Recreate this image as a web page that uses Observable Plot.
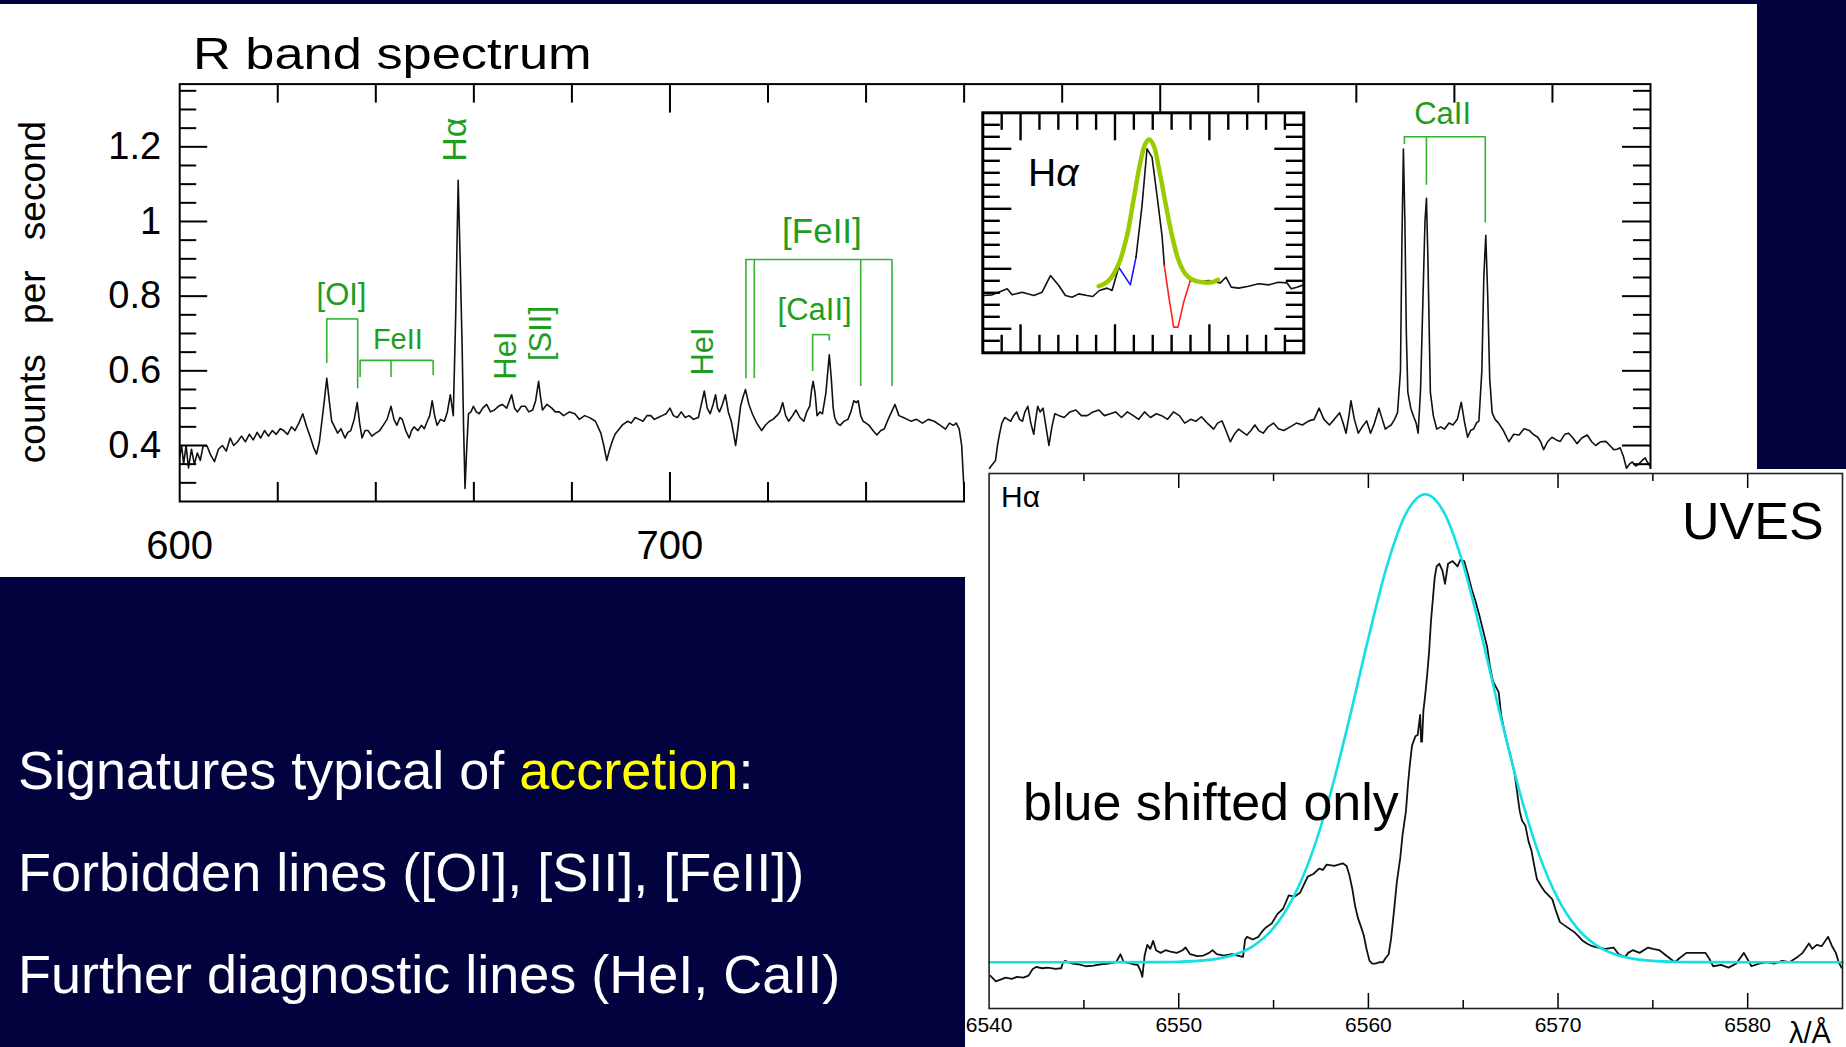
<!DOCTYPE html>
<html>
<head>
<meta charset="utf-8">
<script src="https://cdn.jsdelivr.net/npm/d3@7"></script>
<script src="https://cdn.jsdelivr.net/npm/@observablehq/plot@0.6"></script>
<style>
  html, body { margin: 0; padding: 0; }
  body { width: 1846px; height: 1047px; background: #02023e; position: relative; overflow: hidden;
         font-family: "Liberation Sans", Arial, Helvetica, sans-serif; }
  .sheet { position: absolute; background: #ffffff; }
  .chart { position: absolute; }
  .chart svg { overflow: visible; display: block; }
  .lbl { position: absolute; white-space: nowrap; line-height: 1; }
</style>
</head>
<body>
<div class="sheet" style="left:0;top:4px;width:1757px;height:573px"></div>
<div class="chart" id="rband" style="left:0;top:0"></div>
<div class="chart" id="inset" style="left:975px;top:105px"></div>
<div class="sheet" style="left:965px;top:469px;width:881px;height:578px"></div>
<div class="chart" id="uves" style="left:965px;top:469px"></div>
<script>
// ---------- R band low-resolution spectrum (wavelength in nm, counts per second) ----------
const rbandWave = [600.0,600.4,600.8,601.3,601.8,602.4,603.0,603.6,604.2,604.8,605.6,606.3,607.1,607.9,608.7,609.5,610.3,611.0,611.8,612.6,613.4,614.2,615.0,615.8,616.5,617.3,618.1,618.9,619.7,620.5,621.2,622.0,622.8,623.5,624.3,625.1,625.9,626.7,627.3,627.9,628.5,629.0,629.5,630.0,630.5,631.0,631.6,632.2,632.9,633.7,634.3,634.9,635.6,636.2,636.7,637.2,637.8,638.4,639.2,640.0,640.8,641.5,642.3,643.1,643.7,644.3,644.9,645.4,646.1,646.8,647.3,647.8,648.6,649.3,649.9,650.5,651.0,651.5,652.0,652.5,653.2,654.0,654.6,655.2,655.8,656.3,656.8,657.2,657.6,657.9,658.2,658.5,658.9,659.4,659.9,660.5,661.1,661.8,662.6,663.4,664.2,665.0,665.8,666.7,667.7,668.3,668.9,669.7,670.5,671.2,672.0,672.6,673.2,673.6,674.0,674.9,675.9,676.6,677.4,678.3,679.5,680.6,681.5,682.6,683.7,684.8,685.9,686.5,687.1,687.6,688.2,688.8,689.4,690.3,691.4,692.1,692.9,693.7,694.5,695.3,696.1,696.8,697.6,698.4,699.2,700.0,700.7,701.5,702.3,703.1,703.9,704.8,705.8,706.4,707.0,707.6,708.2,708.8,709.3,709.7,710.1,710.7,711.3,711.9,712.5,713.0,713.4,713.9,714.4,714.9,715.4,716.1,716.8,717.7,718.7,719.5,720.3,721.0,721.8,722.4,723.0,723.6,724.2,725.0,725.7,726.5,727.3,727.9,728.5,728.9,729.2,729.6,730.0,730.6,731.1,731.8,732.2,732.5,732.9,733.3,733.6,734.1,734.7,735.5,736.3,736.9,737.5,738.0,738.4,738.9,739.4,740.0,740.6,741.4,742.2,743.0,743.7,744.5,745.2,745.9,746.7,747.6,748.4,749.2,750.3,751.5,752.7,753.9,755.0,756.2,757.0,757.8,758.4,759.0,759.5,759.9,760.2,764.6,765.2,765.8,766.4,766.8,767.2,767.7,768.3,768.9,769.5,770.1,770.7,771.3,771.9,772.4,773.0,773.6,774.2,774.6,775.0,775.5,776.1,776.7,777.3,777.9,778.5,779.4,780.4,781.6,782.8,783.9,785.1,786.3,787.5,788.6,789.8,790.9,792.1,793.3,794.5,795.6,796.8,798.0,799.2,800.3,801.5,802.7,803.9,805.0,806.2,807.3,808.4,809.6,810.9,811.7,812.6,813.4,814.3,815.1,816.0,816.9,817.7,818.5,819.3,820.1,821.0,822.0,823.1,824.1,825.2,826.5,827.8,829.0,830.3,831.4,832.4,833.4,834.5,835.5,836.6,837.3,837.9,838.5,838.9,839.6,840.4,841.2,842.1,842.9,843.7,844.6,845.3,845.9,846.5,847.1,847.8,848.4,849.0,849.3,849.6,849.9,850.2,850.5,851.1,851.7,852.2,852.6,853.1,853.6,854.0,854.3,854.6,855.1,855.7,856.4,857.2,858.0,858.9,859.7,860.6,861.4,862.1,862.7,863.3,863.9,864.5,865.0,865.6,866.0,866.4,866.8,867.2,867.7,868.3,869.0,870.0,871.1,872.1,873.2,874.2,875.3,876.1,877.0,877.6,878.2,879.0,879.9,880.8,881.6,882.5,883.3,884.2,885.0,886.0,887.1,888.0,888.8,889.8,890.9,891.7,892.5,893.2,893.8,894.5,895.1,895.7,896.3,897.0,897.6,898.3,898.9,899.4,899.9];
const rbandFlux = [0.37,0.40,0.35,0.40,0.34,0.39,0.35,0.38,0.36,0.40,0.398,0.375,0.357,0.39,0.40,0.385,0.42,0.40,0.41,0.425,0.41,0.43,0.415,0.435,0.42,0.44,0.425,0.44,0.43,0.445,0.44,0.43,0.45,0.44,0.46,0.485,0.45,0.42,0.395,0.377,0.41,0.465,0.52,0.58,0.52,0.465,0.45,0.433,0.445,0.42,0.435,0.44,0.47,0.515,0.46,0.42,0.44,0.44,0.425,0.433,0.44,0.454,0.47,0.505,0.47,0.454,0.475,0.47,0.44,0.42,0.44,0.45,0.44,0.454,0.445,0.465,0.48,0.52,0.48,0.454,0.47,0.465,0.49,0.536,0.48,0.75,1.11,0.90,0.67,0.45,0.285,0.38,0.485,0.49,0.505,0.49,0.485,0.50,0.51,0.49,0.495,0.505,0.51,0.50,0.536,0.50,0.49,0.505,0.505,0.49,0.495,0.52,0.572,0.53,0.495,0.51,0.50,0.49,0.49,0.48,0.49,0.485,0.47,0.48,0.474,0.465,0.433,0.40,0.36,0.385,0.41,0.43,0.44,0.455,0.465,0.46,0.475,0.47,0.465,0.48,0.48,0.47,0.475,0.48,0.485,0.50,0.48,0.475,0.49,0.475,0.48,0.47,0.475,0.51,0.546,0.50,0.485,0.51,0.536,0.50,0.49,0.51,0.536,0.49,0.465,0.43,0.40,0.45,0.505,0.53,0.55,0.51,0.485,0.46,0.44,0.455,0.465,0.47,0.48,0.49,0.515,0.48,0.465,0.48,0.495,0.475,0.465,0.49,0.505,0.55,0.572,0.54,0.48,0.49,0.485,0.54,0.60,0.643,0.58,0.50,0.475,0.46,0.454,0.465,0.47,0.49,0.52,0.515,0.52,0.48,0.465,0.46,0.454,0.44,0.428,0.44,0.444,0.47,0.49,0.51,0.48,0.475,0.47,0.465,0.47,0.46,0.47,0.465,0.455,0.444,0.46,0.454,0.46,0.444,0.40,0.30,0.22,0.22,0.34,0.35,0.36,0.40,0.43,0.46,0.475,0.47,0.465,0.48,0.49,0.47,0.465,0.49,0.505,0.46,0.43,0.47,0.505,0.49,0.50,0.45,0.40,0.45,0.485,0.48,0.475,0.49,0.495,0.48,0.48,0.49,0.495,0.48,0.485,0.49,0.475,0.49,0.48,0.47,0.49,0.475,0.485,0.48,0.47,0.49,0.48,0.46,0.47,0.465,0.477,0.46,0.444,0.46,0.466,0.44,0.41,0.43,0.444,0.435,0.428,0.44,0.455,0.44,0.433,0.45,0.46,0.445,0.44,0.45,0.46,0.455,0.466,0.47,0.50,0.47,0.455,0.47,0.488,0.46,0.433,0.48,0.52,0.47,0.433,0.45,0.466,0.433,0.46,0.50,0.47,0.444,0.45,0.455,0.47,0.488,0.60,0.95,1.194,1.00,0.70,0.543,0.50,0.477,0.46,0.433,0.55,0.80,1.00,1.062,0.90,0.543,0.48,0.444,0.45,0.444,0.46,0.455,0.47,0.516,0.46,0.422,0.44,0.444,0.46,0.466,0.60,0.85,0.963,0.80,0.58,0.488,0.47,0.46,0.44,0.41,0.43,0.428,0.445,0.44,0.43,0.422,0.41,0.389,0.41,0.422,0.415,0.411,0.43,0.433,0.42,0.405,0.42,0.428,0.41,0.40,0.41,0.411,0.40,0.389,0.39,0.394,0.37,0.339,0.35,0.356,0.345,0.35,0.36,0.367,0.355,0.345];
const rbandMajorX = [700, 800];
const rbandMinorX = [620, 640, 660, 680, 720, 740, 760, 780, 820, 840, 860, 880];
const rbandMajorY = [0.4, 0.6, 0.8, 1, 1.2];
const rbandMinorY = [0.3, 0.35, 0.45, 0.5, 0.55, 0.65, 0.7, 0.75, 0.85, 0.9, 0.95, 1.05, 1.1, 1.15, 1.25, 1.3, 1.35];
const rbandXLabels = [600, 700, 800];

// line identifications: bracket legs, bracket bars and their labels
const legWave = [630.0, 636.3, 636.8, 643.1, 651.7, 715.5, 717.2, 738.9, 745.3, 729.1, 732.5, 849.8, 854.3, 866.3];
const legTop  = [0.739, 0.739, 0.628, 0.628, 0.628, 0.898, 0.898, 0.898, 0.898, 0.697, 0.697, 1.227, 1.227, 1.227];
const legEnd  = [0.620, 0.552, 0.582, 0.582, 0.587, 0.579, 0.579, 0.558, 0.558, 0.598, 0.680, 1.206, 1.097, 0.996];
const barFrom  = [630.0, 636.8, 715.5, 729.1, 849.8];
const barTo    = [636.3, 651.7, 745.3, 732.5, 866.3];
const barLevel = [0.739, 0.628, 0.898, 0.697, 1.227];
const idText   = ["[OI]", "FeII", "Hα", "HeI", "[SII]", "HeI", "[FeII]", "[CaII]", "CaII"];
const idWave   = [633.0, 644.5, 656.2, 666.5, 673.7, 706.7, 731.0, 729.5, 857.6];
const idFlux   = [0.803, 0.682, 1.219, 0.641, 0.700, 0.652, 0.973, 0.763, 1.288];
const idRotate = [0, 0, -90, -90, -90, -90, 0, 0, 0];
const idSize   = [31, 29, 34, 31, 31, 31, 35, 31, 31];

// ---------- Hα inset (velocity in km/s, relative flux) ----------
const insetVel = [-699.8,-650.4,-615.1,-571.0,-544.6,-491.7,-430.0,-385.9,-341.8,-297.7,-262.4,-227.1,-191.9,-147.8,-117.8,-82.5,-42.0,-15.5,19.8,
                  19.8,81.5,111.5,
                  111.5,143.3,169.7,196.2,222.6,249.1,261.4,
                  261.4,284.3,310.8,333.7,363.7,399.0,
                  399.0,434.3,496.0,557.7,587.7,615.9,654.7,707.6,760.5,813.5,866.4,910.4,933.4,963.4,998.6];
const insetFlux = [0.777,0.783,0.805,0.833,0.783,0.805,0.777,0.805,0.944,0.861,0.777,0.763,0.791,0.777,0.769,0.819,0.839,0.819,1.013,
                   1.013,0.866,1.097,
                   1.097,1.527,2.0,1.930,1.611,1.277,1.027,
                   1.027,0.777,0.514,0.514,0.722,0.902,
                   0.902,0.888,0.902,0.883,0.930,0.847,0.839,0.855,0.875,0.866,0.888,0.883,0.833,0.847,0.866];
const insetSeg = [0,0,0,0,0,0,0,0,0,0,0,0,0,0,0,0,0,0,0, 1,1,1, 2,2,2,2,2,2,2, 3,3,3,3,3,3, 4,4,4,4,4,4,4,4,4,4,4,4,4,4,4];
const insetSegColor = ["#111111", "#1a1aff", "#111111", "#ff2020", "#111111"];
const insetFitVel  = [-86.0,-33.1,19.8,63.9,99.2,134.4,160.9,182.1,205.0,231.5,266.7,302.0,337.3,372.6,407.8,460.7,513.6,545.4];
const insetFitFlux = [0.855,0.902,1.041,1.277,1.583,1.888,2.041,2.077,2.027,1.847,1.555,1.277,1.069,0.958,0.911,0.888,0.888,0.908];
const insetMajorX = [-500, 0, 500];
const insetMinorX = [-600, -400, -300, -200, -100, 100, 200, 300, 400, 600, 700, 800, 900];
const insetMajorY = [0.5, 1.0, 1.5, 2.0];
const insetMinorY = [0.4, 0.6, 0.7, 0.8, 0.9, 1.1, 1.2, 1.3, 1.4, 1.6, 1.7, 1.8, 1.9, 2.1, 2.2];

// ---------- UVES Hα profile (wavelength in Å, flux normalised to the continuum) ----------
const uvesWave = [6540.06,6540.36,6540.6,6540.87,6541.2,6541.47,6541.8,6542.08,6542.3,6542.48,6542.8,6543.09,6543.5,6543.8,6543.9,6544.0,6544.4,6544.7,6545.1,6545.5,6545.9,6546.3,6546.7,6546.93,6547.1,6547.33,6547.6,6547.84,6548.0,6548.08,6548.2,6548.34,6548.5,6548.65,6548.8,6549.05,6549.3,6549.56,6549.9,6550.2,6550.36,6550.6,6550.97,6551.3,6551.6,6551.78,6552.0,6552.38,6552.8,6553.1,6553.39,6553.5,6553.6,6553.9,6554.2,6554.4,6554.6,6554.9,6555.2,6555.5,6555.8,6556.1,6556.4,6556.6,6556.8,6557.1,6557.4,6557.6,6557.8,6558.2,6558.65,6558.85,6559.0,6559.15,6559.3,6559.45,6559.6,6559.76,6559.9,6560.06,6560.2,6560.36,6560.6,6560.77,6560.9,6561.07,6561.2,6561.37,6561.5,6561.68,6561.8,6561.98,6562.1,6562.18,6562.3,6562.48,6562.6,6562.73,6562.78,6562.83,6562.9,6562.99,6563.1,6563.19,6563.3,6563.39,6563.5,6563.6,6563.74,6563.9,6564.04,6564.2,6564.44,6564.7,6564.85,6565.05,6565.25,6565.45,6565.65,6565.86,6566.05,6566.26,6566.4,6566.57,6566.87,6567.0,6567.17,6567.32,6567.47,6567.7,6567.98,6568.1,6568.28,6568.45,6568.59,6568.75,6568.89,6569.1,6569.29,6569.5,6569.7,6569.9,6570.1,6570.4,6570.71,6570.9,6571.11,6571.3,6571.52,6571.8,6572.12,6572.5,6572.93,6573.2,6573.54,6573.7,6573.94,6574.3,6574.75,6575.0,6575.35,6575.7,6576.16,6576.4,6576.77,6577.2,6577.78,6578.0,6578.18,6578.6,6578.99,6579.4,6579.8,6580.0,6580.2,6580.6,6581.01,6581.4,6581.82,6582.2,6582.63,6582.9,6583.23,6583.4,6583.64,6583.9,6584.24,6584.45,6584.65,6584.8,6584.95];
const uvesFlux = [0.90,0.857,0.87,0.885,0.875,0.89,0.885,0.90,0.95,0.965,0.955,0.96,0.95,0.955,1.0,1.01,0.99,0.985,0.97,0.975,0.985,0.99,1.0,1.06,1.0,0.995,0.985,0.98,0.93,0.89,1.05,1.13,1.10,1.16,1.09,1.07,1.09,1.08,1.07,1.09,1.11,1.06,1.045,1.05,1.07,1.09,1.06,1.05,1.06,1.05,1.04,1.17,1.19,1.17,1.19,1.23,1.26,1.29,1.36,1.40,1.50,1.49,1.52,1.58,1.64,1.66,1.70,1.69,1.73,1.72,1.74,1.72,1.65,1.55,1.42,1.33,1.27,1.20,1.10,1.01,0.99,0.99,1.0,1.0,1.03,1.06,1.18,1.41,1.60,1.78,1.95,2.13,2.35,2.47,2.62,2.69,2.70,2.85,2.65,2.65,2.88,2.99,3.15,3.30,3.55,3.70,3.88,3.96,3.98,3.93,3.83,3.98,4.00,3.96,4.01,4.00,3.90,3.79,3.70,3.59,3.48,3.36,3.22,3.10,3.02,2.85,2.73,2.64,2.56,2.42,2.13,2.06,2.02,1.90,1.84,1.72,1.62,1.57,1.53,1.50,1.47,1.38,1.30,1.27,1.24,1.22,1.19,1.16,1.14,1.12,1.11,1.10,1.11,1.06,1.04,1.07,1.09,1.07,1.11,1.10,1.09,1.05,1.00,1.03,1.07,1.07,1.07,1.02,0.97,0.98,0.96,0.99,1.07,1.02,0.97,0.99,1.00,0.99,1.01,1.0,1.04,1.07,1.14,1.10,1.13,1.12,1.19,1.12,1.07,1.0,0.96];
const gaussWave = [6540,6545,6549,6550,6551,6552,6553,6554,6555,6556,6557,6558,6559,6560,6561,6562,6563,6564,6565,6566,6567,6568,6569,6570,6571,6572,6573,6574,6575,6576,6577,6581,6585];
const gaussFlux = [1.0,1.0,1.001,1.004,1.010,1.025,1.059,1.128,1.257,1.474,1.805,2.262,2.822,3.424,3.973,4.360,4.500,4.360,3.973,3.424,2.822,2.262,1.805,1.474,1.257,1.128,1.059,1.025,1.010,1.004,1.001,1.0,1.0];
const uvesMajorX = [6550, 6560, 6570, 6580];
const uvesMinorX = [6545, 6555, 6565, 6575];
const uvesXLabels = [6540, 6550, 6560, 6570, 6580];

const FONT = "'Liberation Sans', Arial, Helvetica, sans-serif";

// ---------- R band chart ----------
{
  const W = 1757, H = 577, mL = 179.2, mR = 107, mT = 83.6, mB = 76;
  const fw = W - mL - mR, fh = H - mT - mB;
  const green = "#1f9d1f", greenLine = "#33b233";
  const spectrum = rbandWave.map((w, i) => ({w, f: rbandFlux[i]}));
  const legs = legWave.map((w, i) => ({w, top: legTop[i], end: legEnd[i]}));
  const bars = barFrom.map((a, i) => ({a, b: barTo[i], y: barLevel[i]}));
  const ids = idText.map((t, i) => ({t, w: idWave[i], f: idFlux[i], r: idRotate[i], s: idSize[i]}));
  const chart = Plot.plot({
    width: W, height: H, marginLeft: mL, marginRight: mR, marginTop: mT, marginBottom: mB,
    style: {background: "transparent", color: "black", fontFamily: FONT, overflow: "visible"},
    x: {domain: [600, 900]},
    y: {domain: [0.25, 1.368]},
    marks: [
      Plot.line(spectrum, {x: "w", y: "f", stroke: "#111", strokeWidth: 1.6, clip: true}),
      Plot.ruleX(legs, {x: "w", y1: "top", y2: "end", stroke: greenLine, strokeWidth: 1.6}),
      Plot.ruleY(bars, {y: "y", x1: "a", x2: "b", stroke: greenLine, strokeWidth: 1.6}),
      Plot.text(ids, {x: "w", y: "f", text: "t", rotate: d => d.r, fontSize: d => d.s, fill: green}),
      Plot.tickX(rbandMinorX, {x: d => d, insetTop: fh - 19, strokeWidth: 2}),
      Plot.tickX(rbandMajorX, {x: d => d, insetTop: fh - 29, strokeWidth: 2}),
      Plot.tickX(rbandMinorX, {x: d => d, insetBottom: fh - 19, strokeWidth: 2}),
      Plot.tickX(rbandMajorX, {x: d => d, insetBottom: fh - 29, strokeWidth: 2}),
      Plot.tickY(rbandMinorY, {y: d => d, insetRight: fw - 17, strokeWidth: 2}),
      Plot.tickY(rbandMajorY, {y: d => d, insetRight: fw - 28, strokeWidth: 2}),
      Plot.tickY(rbandMinorY, {y: d => d, insetLeft: fw - 17, strokeWidth: 2}),
      Plot.tickY(rbandMajorY, {y: d => d, insetLeft: fw - 28, strokeWidth: 2}),
      Plot.frame({stroke: "black", strokeWidth: 2}),
      Plot.axisX({ticks: rbandXLabels, tickSize: 0, tickPadding: 29, fontSize: 40, tickFormat: d => String(d), label: null}),
      Plot.axisY({ticks: rbandMajorY, tickSize: 0, tickPadding: 18.5, fontSize: 38, tickFormat: d => String(d), label: null})
    ]
  });
  document.getElementById("rband").appendChild(chart);
}

// ---------- Hα inset ----------
{
  const W = 335, H = 255, mL = 7.3, mR = 6.7, mT = 7.3, mB = 7.7;
  const fw = W - mL - mR, fh = H - mT - mB;
  const obs = insetVel.map((u, i) => ({u, v: insetFlux[i], seg: insetSeg[i]}));
  const fit = insetFitVel.map((u, i) => ({u, v: insetFitFlux[i]}));
  const chart = Plot.plot({
    width: W, height: H, marginLeft: mL, marginRight: mR, marginTop: mT, marginBottom: mB,
    style: {background: "transparent", color: "black", fontFamily: FONT, overflow: "visible"},
    x: {domain: [-700, 1000], axis: null},
    y: {domain: [0.3, 2.3], axis: null},
    marks: [
      Plot.frame({fill: "white", stroke: null}),
      Plot.line(obs, {x: "u", y: "v", z: "seg", stroke: d => insetSegColor[d.seg], strokeWidth: 1.6}),
      Plot.line(fit, {x: "u", y: "v", stroke: "#99cc00", strokeWidth: 4.5, curve: "catmull-rom"}),
      Plot.tickX(insetMinorX, {x: d => d, insetTop: fh - 17.5, strokeWidth: 2.4}),
      Plot.tickX(insetMajorX, {x: d => d, insetTop: fh - 28, strokeWidth: 2.4}),
      Plot.tickX(insetMinorX, {x: d => d, insetBottom: fh - 17.5, strokeWidth: 2.4}),
      Plot.tickX(insetMajorX, {x: d => d, insetBottom: fh - 28, strokeWidth: 2.4}),
      Plot.tickY(insetMinorY, {y: d => d, insetRight: fw - 17.5, strokeWidth: 2.4}),
      Plot.tickY(insetMajorY, {y: d => d, insetRight: fw - 29, strokeWidth: 2.4}),
      Plot.tickY(insetMinorY, {y: d => d, insetLeft: fw - 17.5, strokeWidth: 2.4}),
      Plot.tickY(insetMajorY, {y: d => d, insetLeft: fw - 29, strokeWidth: 2.4}),
      Plot.frame({stroke: "black", strokeWidth: 3})
    ]
  });
  document.getElementById("inset").appendChild(chart);
}

// ---------- UVES chart ----------
{
  const W = 881, H = 578, mL = 23.6, mR = 4, mT = 4, mB = 39;
  const fh = H - mT - mB;
  const obs = uvesWave.map((w, i) => ({w, f: uvesFlux[i]}));
  const fit = gaussWave.map((w, i) => ({w, f: gaussFlux[i]}));
  const chart = Plot.plot({
    width: W, height: H, marginLeft: mL, marginRight: mR, marginTop: mT, marginBottom: mB,
    style: {background: "transparent", color: "black", fontFamily: FONT, overflow: "visible"},
    x: {domain: [6540, 6585]},
    y: {domain: [0.654, 4.655], axis: null},
    marks: [
      Plot.line(obs, {x: "w", y: "f", stroke: "#111", strokeWidth: 1.8}),
      Plot.line(fit, {x: "w", y: "f", stroke: "#14e0e4", strokeWidth: 2.6, curve: "monotone-x"}),
      Plot.tickX(uvesMinorX, {x: d => d, insetTop: fh - 8, strokeWidth: 1.5}),
      Plot.tickX(uvesMajorX, {x: d => d, insetTop: fh - 15, strokeWidth: 1.5}),
      Plot.tickX(uvesMinorX, {x: d => d, insetBottom: fh - 8, strokeWidth: 1.5}),
      Plot.tickX(uvesMajorX, {x: d => d, insetBottom: fh - 15, strokeWidth: 1.5}),
      Plot.frame({stroke: "#222", strokeWidth: 1.6}),
      Plot.axisX({ticks: uvesXLabels, tickSize: 0, tickPadding: 9, fontSize: 21, tickFormat: d => String(d), label: null})
    ]
  });
  document.getElementById("uves").appendChild(chart);
}

// ---------- titles, panel labels and slide text ----------
function label(text, left, baseline, size, opts = {}) {
  const el = document.createElement("div");
  el.className = "lbl";
  el.style.left = left + "px";
  el.style.top = (baseline - 0.8465 * size) + "px";
  el.style.fontSize = size + "px";
  el.style.color = opts.color || "black";
  if (opts.html) el.innerHTML = text; else el.textContent = text;
  if (opts.transform) { el.style.transform = opts.transform; el.style.transformOrigin = "0 0"; }
  document.body.appendChild(el);
  return el;
}
label("R band spectrum", 193, 69, 44, {transform: "scaleX(1.19)"});
{
  const yl = document.createElement("div");
  yl.className = "lbl";
  yl.textContent = "counts per second";
  Object.assign(yl.style, {left: "31.5px", top: "292px", fontSize: "37px", wordSpacing: "20px",
    color: "black", transform: "translate(-50%, -50%) rotate(-90deg)"});
  document.body.appendChild(yl);
}
label('H<span style="font-style:italic">α</span>', 1028, 186, 39, {html: true});
label("Hα", 1001, 507.5, 30);
label("UVES", 1682, 539, 52);
label("blue shifted only", 1023, 820, 52);
label("λ/Å", 1789, 1044, 29);
label('Signatures typical of <span style="color:#ffff00">accretion</span>:', 18, 789, 54, {color: "#ffffff", html: true});
label("Forbidden lines ([OI], [SII], [FeII])", 18, 891, 54, {color: "#ffffff"});
label("Further diagnostic lines (HeI, CaII)", 18, 993, 54, {color: "#ffffff"});
</script>
</body>
</html>
